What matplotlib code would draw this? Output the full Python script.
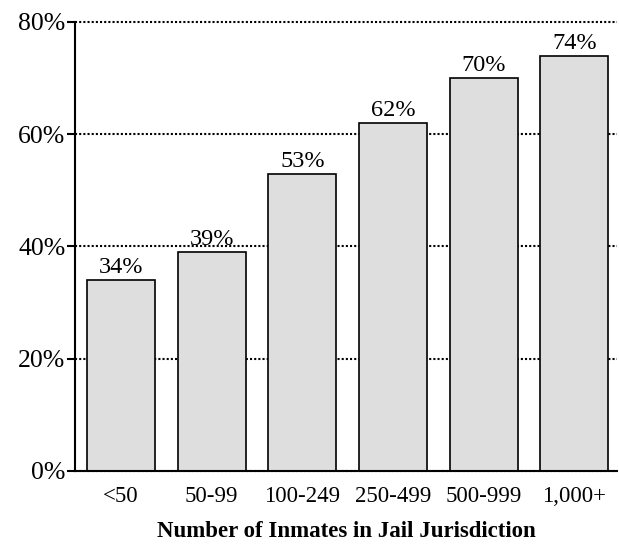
import matplotlib
matplotlib.use("Agg")
import matplotlib.pyplot as plt

categories = ["<50", "50-99", "100-249", "250-499", "500-999", "1,000+"]
values = [34, 39, 53, 62, 70, 74]
yticks = [0, 20, 40, 60, 80]

plt.rcParams["font.family"] = ["Liberation Serif", "DejaVu Serif"]

fig = plt.figure(figsize=(6.19, 5.44), dpi=100)
ax = fig.add_axes([0.1212, 0.1342, 0.8756, 0.8254])

x = list(range(len(categories)))
ax.bar(x, values, width=0.75, color="#dedede", edgecolor="black",
       linewidth=1.2, zorder=3)

for xi, v in zip(x, values):
    ax.text(xi, v + 0.3, f"{v}%", ha="center", va="bottom", fontsize=17.5, zorder=4)

ax.set_xlim(-0.508, 5.47)
ax.set_ylim(0, 80)
ax.set_yticks(yticks)
ax.set_yticklabels([f"{t}%" for t in yticks], fontsize=18.5)
ax.set_xticks(x)
ax.set_xticklabels(categories, fontsize=16.5)

ax.yaxis.grid(True, linestyle=(0, (1, 1)), color="black", linewidth=1.5, zorder=0)
for gl in ax.get_ygridlines():
    gl.set_clip_on(False)
ax.set_axisbelow(True)

for side in ("top", "right"):
    ax.spines[side].set_visible(False)
ax.spines["left"].set_linewidth(1.5)
ax.spines["bottom"].set_linewidth(1.5)
ax.spines["left"].set_zorder(5)
ax.spines["bottom"].set_zorder(5)

ax.tick_params(axis="y", length=6, width=1.5, pad=1)
ax.tick_params(axis="x", length=0, pad=11)

ax.set_xlabel("Number of Inmates in Jail Jurisdiction", fontsize=16.5,
              fontweight="bold", labelpad=10)

fig.savefig("out.png", dpi=100)
